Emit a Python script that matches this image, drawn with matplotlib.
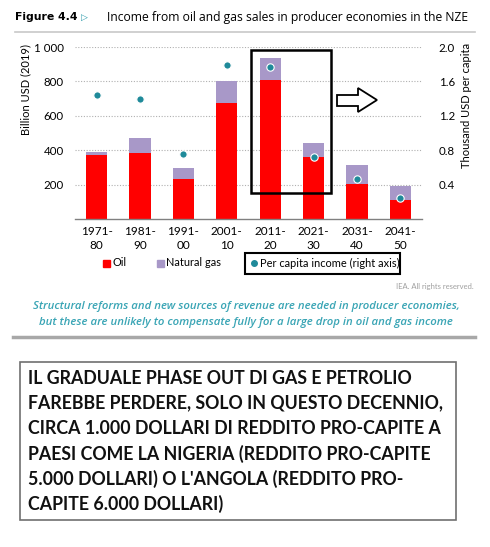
import matplotlib
matplotlib.use('Agg')
import matplotlib.pyplot as plt
import matplotlib.patches as mpatches
import numpy as np

plt.rcParams['font.family'] = ['Lato', 'DejaVu Sans']

# data
periods = ['1971-\n80', '1981-\n90', '1991-\n00', '2001-\n10',
           '2011-\n20', '2021-\n30', '2031-\n40', '2041-\n50']
oil = [370, 385, 230, 675, 810, 360, 205, 108]
gas = [20, 85, 65, 127, 125, 80, 110, 85]
per_capita = [1.44, 1.40, 0.76, 1.79, 1.77, 0.72, 0.46, 0.25]

left_ticks = [200, 400, 600, 800, 1000]
left_labels = ['200', '400', '600', '800', '1 000']
right_ticks = [0.4, 0.8, 1.2, 1.6, 2.0]

RED = '#FF0000'
LAV = '#A898C8'
TEAL = '#1F8A9A'
W, H = 490, 547


def fx(px):
    return px / W


def fy(py):
    return 1 - py / H


fig = plt.figure(figsize=(4.9, 5.47), dpi=100)

# title
fig.text(fx(15), fy(17), 'Figure 4.4', fontsize=7.8, fontweight='bold', va='center',
         family=['DejaVu Sans'])
fig.text(fx(81), fy(17), '\u25b7', fontsize=6.5, fontweight='bold', va='center',
         color='#2A9AAA', family=['DejaVu Sans'])
fig.text(fx(107), fy(17), 'Income from oil and gas sales in producer economies in the NZE',
         fontsize=8.7, va='center', family=['Open Sans', 'DejaVu Sans'])
fig.add_artist(plt.Line2D([fx(15), fx(475)], [fy(32), fy(32)], color='#c8c8c8', lw=1.2))

# main axes
ax = fig.add_axes([fx(75), fy(219), fx(347), 172 / H])
x = np.arange(len(periods))
ax.bar(x, oil, width=0.49, color=RED, zorder=2)
ax.bar(x, gas, width=0.49, bottom=oil, color=LAV, zorder=2)
ax.set_xlim(-0.5, 7.5)
ax.set_ylim(0, 1000)
ax.set_yticks(left_ticks)
ax.set_yticklabels(left_labels)
ax.set_xticks(x)
ax.set_xticklabels(periods, linespacing=1.3)
ax.tick_params(length=0, labelsize=8.5, pad=5)
ax.tick_params(axis='y', pad=8, labelsize=8.3)
for v in left_ticks:
    ax.axhline(v, color='#b0b0b0', lw=0.8, ls=(0, (1, 1.5)), zorder=1)
for s in ['top', 'right', 'left']:
    ax.spines[s].set_visible(False)
ax.spines['bottom'].set_color('#808080')
ax.spines['bottom'].set_linewidth(1.0)

ax2 = ax.twinx()
ax2.plot(x, per_capita, 'o', color=TEAL, ms=5.3, mec='white', mew=0.8, zorder=3)
ax2.set_ylim(0, 2.0)
ax2.set_yticks(right_ticks)
ax2.set_yticklabels(['%.1f' % t for t in right_ticks])
ax2.tick_params(length=0, labelsize=8.3, pad=12)
for s in ax2.spines.values():
    s.set_visible(False)

fig.text(fx(26), fy(90), 'Billion USD (2019)', rotation=90, fontsize=8, ha='center', va='center')
fig.text(fx(466), fy(105), 'Thousand USD per capita', rotation=90, fontsize=8, ha='center', va='center')

# highlight box around 2011-20 and 2021-30
ax.add_patch(mpatches.Rectangle((3.56, 151), 1.85, 832, fill=False, ec='black', lw=1.8,
                                clip_on=False, zorder=4))

# outlined arrow
arrow_px = [(337, 95), (358, 95), (358, 88), (377, 100), (358, 112), (358, 106), (337, 106)]
fig.add_artist(mpatches.Polygon([(fx(a), fy(b)) for a, b in arrow_px], closed=True,
                                fc='white', ec='black', lw=1.3))

# legend
fig.add_artist(mpatches.Rectangle((fx(103), fy(267)), fx(7), 7 / H, color=RED))
fig.text(fx(112), fy(263), 'Oil', fontsize=7.9, va='center')
fig.add_artist(mpatches.Rectangle((fx(157), fy(267)), fx(7), 7 / H, color=LAV))
fig.text(fx(166), fy(263), 'Natural gas', fontsize=7.9, va='center')
fig.add_artist(mpatches.Rectangle((fx(245), fy(274)), fx(155), 21 / H, fill=False,
                                  ec='black', lw=1.5))
fig.add_artist(plt.Line2D([fx(254)], [fy(263)], marker='o', color=TEAL, ms=4))
fig.text(fx(260), fy(263), 'Per capita income (right axis)', fontsize=7.9, va='center')

fig.text(fx(474), fy(286), 'IEA. All rights reserved.', fontsize=5.5, color='#a0a0a0',
         ha='right', va='center')

fig.text(fx(246), fy(306), 'Structural reforms and new sources of revenue are needed in producer economies,',
         fontsize=8.2, style='italic', weight='semibold', color='#3AA5B5', ha='center', va='center',
         family=['Open Sans', 'DejaVu Sans'])
fig.text(fx(246), fy(322), 'but these are unlikely to compensate fully for a large drop in oil and gas income',
         fontsize=8.2, style='italic', weight='semibold', color='#3AA5B5', ha='center', va='center',
         family=['Open Sans', 'DejaVu Sans'])
fig.add_artist(plt.Line2D([fx(13), fx(475)], [fy(337), fy(337)], color='#a8a8a8', lw=2.5))

# text box
fig.add_artist(mpatches.Rectangle((fx(20), fy(520)), fx(436), 158 / H, fill=False,
                                  ec='#707070', lw=1.2))
box_lines = ['IL GRADUALE PHASE OUT DI GAS E PETROLIO',
             'FAREBBE PERDERE, SOLO IN QUESTO DECENNIO,',
             "CIRCA 1.000 DOLLARI DI REDDITO PRO-CAPITE A",
             'PAESI COME LA NIGERIA (REDDITO PRO-CAPITE',
             "5.000 DOLLARI) O L'ANGOLA (REDDITO PRO-",
             'CAPITE 6.000 DOLLARI)']
for i, line in enumerate(box_lines):
    fig.text(fx(28), fy(378 + i * 25.2), line, fontsize=12.8, fontweight='bold',
             va='center', color='#111111')

fig.savefig('out.png', dpi=100)
